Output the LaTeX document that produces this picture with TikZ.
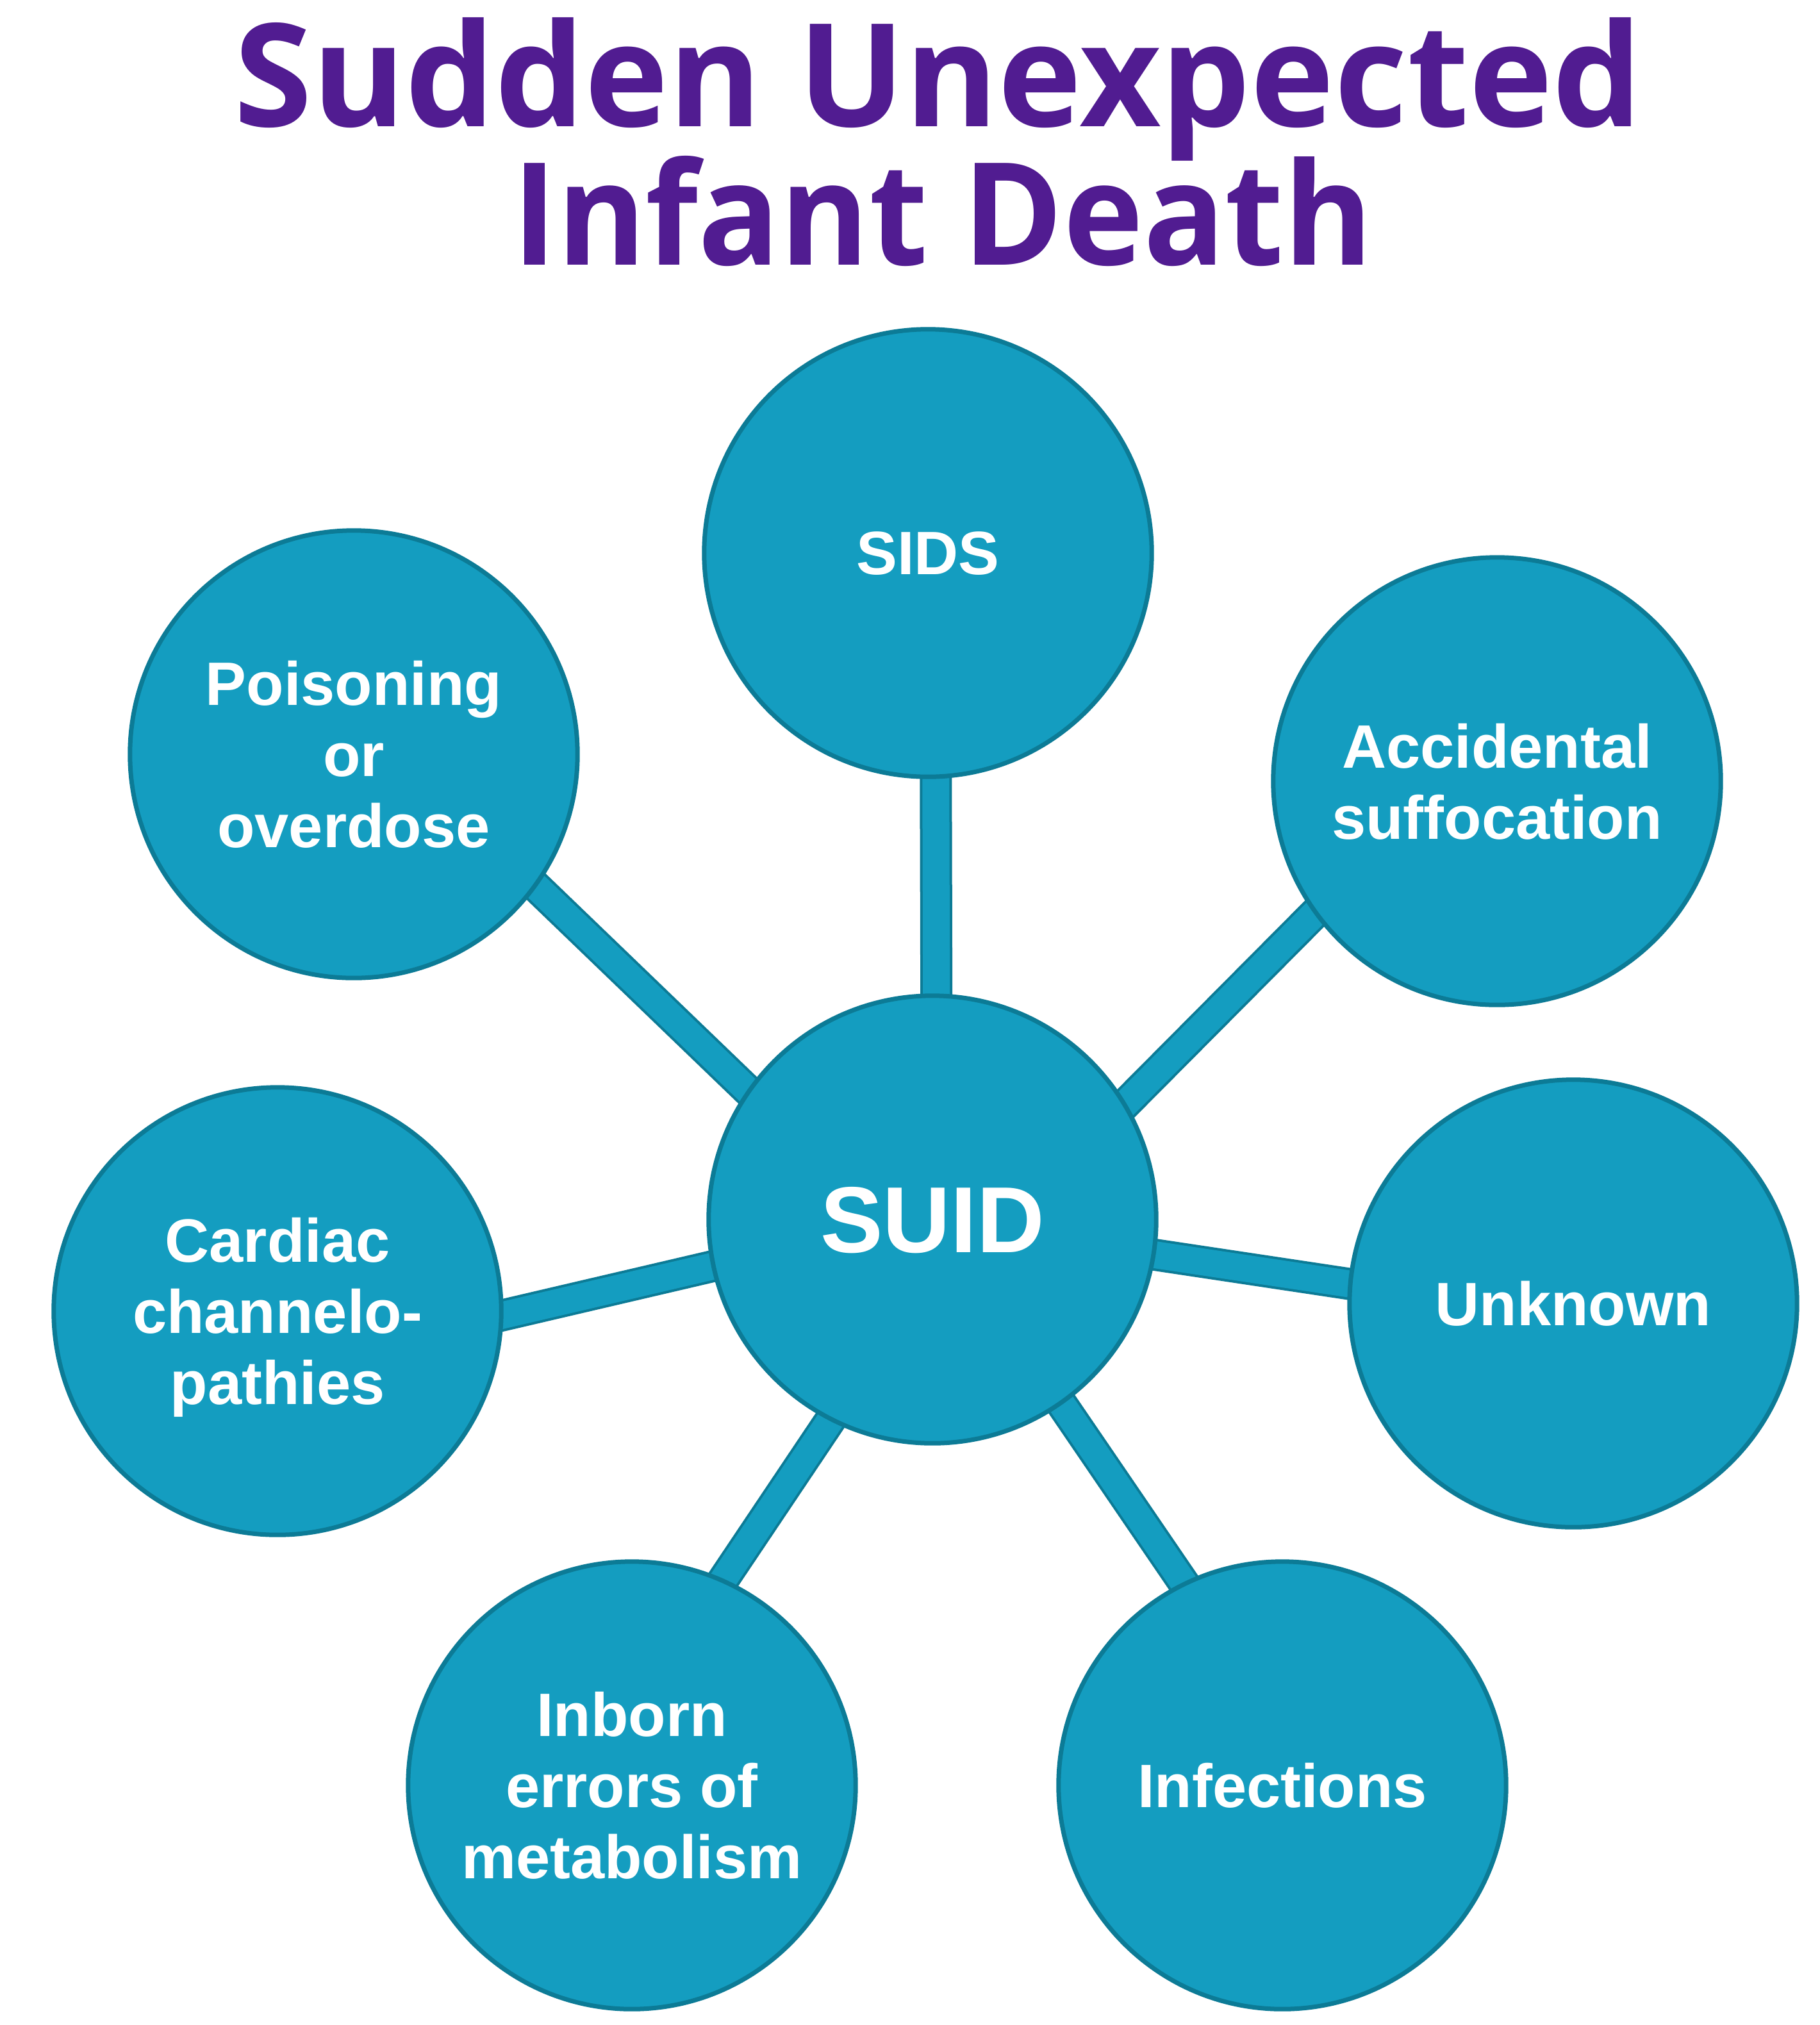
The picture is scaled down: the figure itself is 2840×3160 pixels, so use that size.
\documentclass[tikz,border=0pt]{standalone}
\usepackage{fontspec}
\usepackage{graphicx}
\setmainfont{Liberation Sans}
\newfontfamily\titlefont{Open Sans}
\usetikzlibrary{backgrounds}
\definecolor{circfill}{RGB}{20,157,192}
\definecolor{circedge}{RGB}{12,123,150}
\definecolor{titlepurple}{RGB}{81,28,145}
\tikzset{
  circ/.style={circle, draw=circedge, line width=0.07cm, fill=circfill,
    minimum size=6.98cm, inner sep=0pt, text=white, align=center,
    text depth=0pt, font=\bfseries\fontsize{27.2}{31.6}\selectfont},
  bigcirc/.style={circ, font=\bfseries\fontsize{41.6}{50}\selectfont},
  conn/.style={line width=0.04cm, draw=circedge, double=circfill, double distance=0.42cm,
    shorten >=-0.2cm, shorten <=-0.2cm},
  titleline/.style={anchor=base, text=titlepurple, inner sep=0pt, font=\titlefont\bfseries}
}
\begin{document}
\begin{tikzpicture}[x=0.01cm, y=-0.01cm]
\path[use as bounding box] (0,0) rectangle (2840,3160);
\node[titleline] (t1) at (1464,197) {\resizebox{21.95cm}{1.70cm}{Sudden Unexpected}};
\node[titleline] (t2) at (1471,413) {\resizebox{13.43cm}{1.70cm}{Infant Death}};
\node[bigcirc] (suid) at (1455,1903) {SUID};
\node[circ] (sids) at (1448,863) {SIDS};
\node[circ] (acc) at (2336,1219) {Accidental\\suffocation};
\node[circ] (unk) at (2455,2034) {Unknown};
\node[circ] (inf) at (2001,2786) {Infections};
\node[circ] (inb) at (986,2786) {Inborn\\errors of\\metabolism};
\node[circ] (card) at (433,2046) {Cardiac\\channelo-\\pathies};
\node[circ] (pois) at (552,1177) {Poisoning\\or\\overdose};
\begin{scope}[on background layer]
\draw[conn] (suid.89.8) -- (sids.-88.7);
\draw[conn] (suid.31.4) -- (acc.-144.2);
\draw[conn] (suid.-9.7) -- (unk.175.3);
\draw[conn] (suid.-55.2) -- (inf.116.1);
\draw[conn] (suid.-117.3) -- (inb.66.6);
\draw[conn] (suid.-168.1) -- (card.-1.8);
\draw[conn] (suid.145.9) -- (pois.-36.2);
\end{scope}
\end{tikzpicture}
\end{document}
